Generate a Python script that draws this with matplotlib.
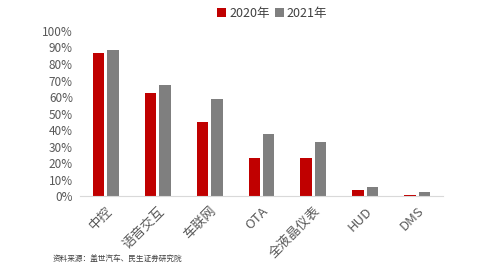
import matplotlib.pyplot as plt
import numpy as np
from matplotlib.ticker import PercentFormatter

plt.rcParams['font.family'] = ['Noto Sans CJK SC', 'DejaVu Sans']

categories = ['中控', '语音交互', '车联网', 'OTA', '全液晶仪表', 'HUD', 'DMS']
v2020 = [86.8, 62.2, 44.8, 23.0, 22.8, 4.0, 0.6]
v2021 = [88.5, 67.3, 58.6, 37.5, 32.5, 5.6, 2.8]

fig = plt.figure(figsize=(4.99, 2.79), dpi=100)
ax = fig.add_axes([0.160, 0.297, 0.728, 0.592])

x = np.arange(len(categories))
w = 0.22
ax.bar(x - 0.14, v2020, w, color='#C00000', label='2020年')
ax.bar(x + 0.14, v2021, w, color='#7F7F7F', label='2021年')

ax.set_xlim(-0.5, len(categories) - 0.5)
ax.set_ylim(0, 100)
ax.set_yticks(np.arange(0, 101, 10))
ax.yaxis.set_major_formatter(PercentFormatter(decimals=0))
ax.set_xticks(x)
ax.set_xticklabels(categories, rotation=45, ha='right', rotation_mode='anchor')
ax.tick_params(axis='y', length=0, labelsize=8.5, labelcolor='#595959', pad=5)
ax.tick_params(axis='x', length=0, labelsize=9.5, labelcolor='#595959', pad=6)
for s in ['top', 'right', 'left']:
    ax.spines[s].set_visible(False)
ax.spines['bottom'].set_color('#D9D9D9')

ax.legend(loc='lower center', bbox_to_anchor=(0.53, 1.0), ncol=2, frameon=False,
          fontsize=9, handlelength=0.7, handleheight=0.7, handletextpad=0.25,
          columnspacing=0.4, labelcolor='#404040')

fig.text(0.106, 0.06, '资料来源：盖世汽车、民生证券研究院', fontsize=5.5, color='#404040')

fig.savefig('out.png', dpi=100)
